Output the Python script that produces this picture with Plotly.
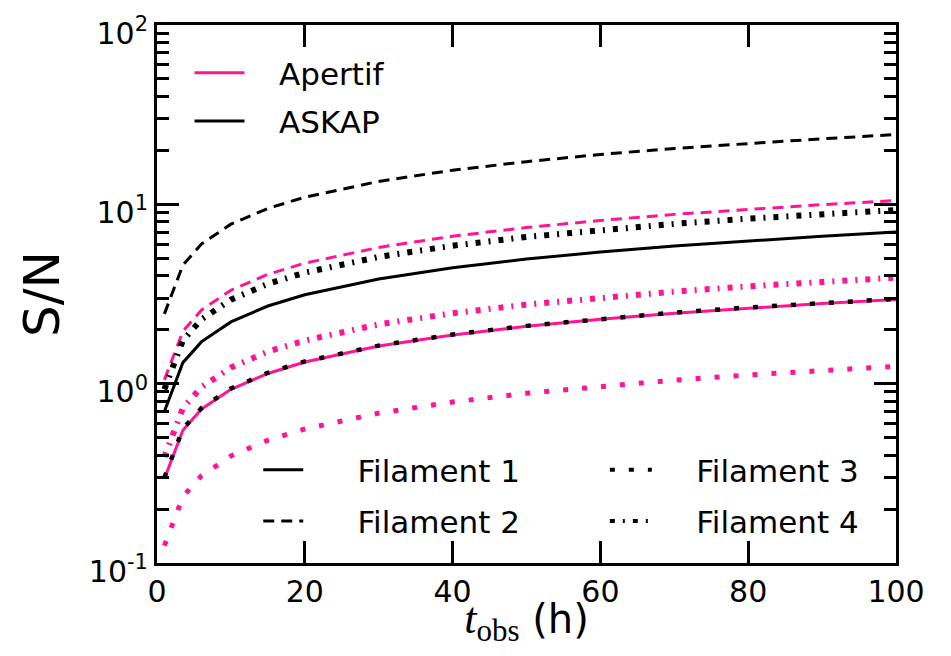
import plotly.graph_objects as go

# observation time (h)
t_obs = [1, 3.5, 6, 10, 15, 20, 30, 40, 50, 60, 70, 80, 90, 100]

# S/N
apertif_f1 = [0.295, 0.55, 0.72, 0.93, 1.14, 1.32, 1.62, 1.87, 2.09, 2.29, 2.47, 2.64, 2.80, 2.95]
apertif_f2 = [1.05, 1.96, 2.57, 3.32, 4.07, 4.70, 5.75, 6.64, 7.42, 8.13, 8.79, 9.39, 9.96, 10.5]
apertif_f3 = [0.125, 0.234, 0.306, 0.395, 0.484, 0.559, 0.685, 0.79, 0.884, 0.968, 1.046, 1.118, 1.186, 1.25]
apertif_f4 = [0.39, 0.73, 0.955, 1.23, 1.51, 1.74, 2.14, 2.47, 2.76, 3.02, 3.26, 3.49, 3.70, 3.9]

askap_f1 = [0.70, 1.31, 1.71, 2.21, 2.71, 3.13, 3.83, 4.43, 4.95, 5.42, 5.86, 6.26, 6.64, 7.0]
askap_f2 = [2.45, 4.58, 6.0, 7.75, 9.49, 10.96, 13.42, 15.5, 17.3, 18.98, 20.5, 21.9, 23.2, 24.5]
askap_f3 = [0.30, 0.56, 0.73, 0.94, 1.15, 1.33, 1.63, 1.88, 2.10, 2.30, 2.49, 2.66, 2.82, 2.97]
askap_f4 = [0.93, 1.74, 2.28, 2.94, 3.60, 4.16, 5.09, 5.88, 6.58, 7.20, 7.78, 8.32, 8.82, 9.3]

instruments = ["Apertif", "ASKAP"]
filaments = ["Filament 1", "Filament 2", "Filament 3", "Filament 4"]
y_tickvals = [0.1, 1, 10, 100]
y_ticktext = ["10<sup>-1</sup>", "10<sup>0</sup>", "10<sup>1</sup>", "10<sup>2</sup>"]
y_minor_vals = [m * 10 ** e for e in (-1, 0, 1) for m in range(2, 10)]
x_tickvals = [0, 20, 40, 60, 80, 100]

PINK = "#ff1493"
BLACK = "#000000"

styles = {
    "Filament 1": dict(dash="solid", width=3),
    "Filament 2": dict(dash="11px,7px", width=3),
    "Filament 3": dict(dash="5px,14px", width=5),
    "Filament 4": dict(dash="5px,8px,2px,8px", width=6),
}

series = {
    "Apertif": [apertif_f1, apertif_f2, apertif_f3, apertif_f4],
    "ASKAP": [askap_f1, askap_f2, askap_f3, askap_f4],
}
colors = {"Apertif": PINK, "ASKAP": BLACK}

fig = go.Figure()
for inst in instruments:
    for fil, vals in zip(filaments, series[inst]):
        st = styles[fil]
        w = st["width"]
        if inst == "ASKAP" and fil == "Filament 3":
            w = 4.5
        fig.add_trace(go.Scatter(
            x=t_obs, y=vals, mode="lines", showlegend=False,
            line=dict(color=colors[inst], width=w, dash=st["dash"]),
            name=f"{inst} {fil}",
        ))

NB = "\u00a0"
# legend: instruments
for inst in instruments:
    fig.add_trace(go.Scatter(
        x=[None], y=[None], mode="lines", name=NB * 3 + inst, legend="legend",
        legendgroup=inst, line=dict(color=colors[inst], width=3),
    ))

# legend: filaments (two columns)
for fil in filaments:
    if fil in ("Filament 1", "Filament 2"):
        leg, pad = "legend2", 5
    else:
        leg, pad = "legend3", 4
    st = styles[fil]
    fig.add_trace(go.Scatter(
        x=[None], y=[None], mode="lines", name=NB * pad + fil, legend=leg,
        legendgroup=fil, line=dict(color=BLACK, width=min(st["width"], 4), dash=st["dash"]),
    ))

legend_font = dict(family="DejaVu Sans", size=31, color="black")
common_leg = dict(font=legend_font, bgcolor="rgba(0,0,0,0)", borderwidth=0,
                  traceorder="grouped", xanchor="left", yanchor="top")

fig.update_layout(
    width=935, height=640,
    margin=dict(l=149, r=47, t=17, b=85, autoexpand=False),
    plot_bgcolor="white", paper_bgcolor="white",
    legend=dict(x=0.044, y=0.961, itemwidth=50, tracegroupgap=5, **common_leg),
    legend2=dict(x=0.137, y=0.223, itemwidth=40, tracegroupgap=8, **common_leg),
    legend3=dict(x=0.606, y=0.223, itemwidth=42, tracegroupgap=8, **common_leg),
    xaxis=dict(
        range=[0, 100], tickvals=x_tickvals, automargin=False,
        showline=True, linewidth=3, linecolor="black", mirror="ticks",
        ticks="inside", ticklen=22, tickwidth=2.5, tickcolor="black",
        showgrid=False, zeroline=False, ticklabeloverflow="allow",
        tickfont=dict(family="DejaVu Sans", size=30, color="black"),
        title=dict(
            text='<span style="font-family:Liberation Serif;font-size:44px"><i>t</i></span>'
                 '<sub><span style="font-family:Liberation Serif;font-size:31px">obs</span></sub> (h)',
            font=dict(family="DejaVu Sans", size=40, color="black"),
            standoff=9,
        ),
    ),
    yaxis=dict(
        type="log", range=[-1, 2], automargin=False,
        tickvals=y_tickvals, ticktext=y_ticktext, ticklabeloverflow="allow",
        ticklabelshift=8,
        showline=True, linewidth=3, linecolor="black", mirror="ticks",
        ticks="inside", ticklen=22, tickwidth=2.5, tickcolor="black",
        minor=dict(tickmode="array", tickvals=y_minor_vals, ticks="inside",
                   ticklen=12, tickwidth=2.5, tickcolor="black", showgrid=False),
        showgrid=False, zeroline=False,
        tickfont=dict(family="DejaVu Sans", size=30, color="black"),
        title=dict(text="S/N", font=dict(family="DejaVu Sans", size=50, color="black"), standoff=14),
    ),
)

fig.write_html("out.html")
